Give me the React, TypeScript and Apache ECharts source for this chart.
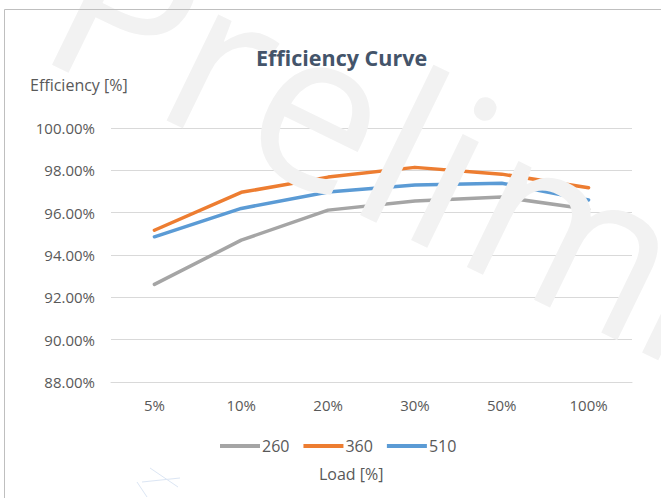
import React, { useEffect, useRef } from "react";
import * as echarts from "echarts";

const categories = ["5%", "10%", "20%", "30%", "50%", "100%"];
const seriesNames = ["260", "360", "510"];
const s260 = [92.61, 94.7, 96.12, 96.55, 96.74, 96.16];
const s360 = [95.17, 96.96, 97.68, 98.14, 97.82, 97.18];
const s510 = [94.86, 96.2, 96.98, 97.31, 97.39, 96.6];
const seriesColors = ["#A5A5A5", "#ED7D31", "#5B9BD5"];
const yMin = 88;
const yMax = 100;
const yStep = 2;

const watermarkLetters = ["P", "r", "e", "l", "i", "m", "i", "n", "a", "r", "y"];
const watermarkCenters = [36, 145, 254, 343, 400, 536, 657, 753, 880, 990, 1090];

const FONT = "'Open Sans', 'Noto Sans', sans-serif";
const ANG = (26 * Math.PI) / 180;

export default function App() {
  const ref = useRef<HTMLDivElement>(null);
  useEffect(() => {
    document.body.style.margin = "0";
    const chart = echarts.init(ref.current!, null, { renderer: "svg" });
    const data = [s260, s360, s510];
    chart.setOption({
      animation: false,
      backgroundColor: "#ffffff",
      grid: { left: 111, right: 29, top: 128, bottom: 116, containLabel: false },
      legend: {
        data: seriesNames,
        left: 215,
        top: 433,
        icon: "rect",
        itemWidth: 40,
        itemHeight: 4,
        itemGap: 14,
        textStyle: { color: "#595959", fontSize: 16, fontFamily: FONT, padding: [0, 0, 0, -3] },
      },
      xAxis: {
        type: "category",
        data: categories,
        boundaryGap: true,
        axisLine: { show: true, lineStyle: { color: "#D9D9D9", width: 1 } },
        axisTick: { show: false },
        axisLabel: { color: "#595959", fontSize: 15, fontFamily: FONT, margin: 15 },
        splitLine: { show: false },
      },
      yAxis: {
        type: "value",
        min: yMin,
        max: yMax,
        interval: yStep,
        axisLine: { show: false },
        axisTick: { show: false },
        axisLabel: {
          color: "#595959",
          fontSize: 15,
          fontFamily: FONT,
          margin: 16,
          formatter: (v: number) => v.toFixed(2) + "%",
        },
        splitLine: { show: true, lineStyle: { color: "#D9D9D9", width: 1 } },
      },
      series: seriesNames.map((name, i) => ({
        name,
        type: "line",
        data: data[i],
        symbol: "none",
        z: 2,
        itemStyle: { color: seriesColors[i] },
        lineStyle: { color: seriesColors[i], width: 3.5, cap: "round", join: "round" },
      })),
      graphic: [
        {
          type: "group",
          x: 60,
          y: 68,
          rotation: -ANG,
          silent: true,
          children: watermarkLetters.map((ch, i) => ({
            type: "text",
            x: watermarkCenters[i],
            y: -85,
            zlevel: 1,
            z: 100,
            silent: true,
            style: {
              text: ch,
              fontSize: 220,
              fontFamily: FONT,
              fontWeight: 500,
              fill: "#F2F2F2",
              align: "center",
              verticalAlign: "middle",
            },
          })),
        },
        {
          type: "text",
          left: 256,
          top: 46,
          zlevel: 2,
          z: 300,
          style: {
            text: "Efficiency Curve",
            fontSize: 21.5,
            fontWeight: "bold",
            fontFamily: FONT,
            fill: "#44546A",
          },
        },
        {
          type: "text",
          left: 30,
          top: 77,
          zlevel: 2,
          z: 300,
          style: { text: "Efficiency [%]", fontSize: 16, fontFamily: FONT, fill: "#595959" },
        },
        {
          type: "text",
          left: 319,
          top: 466,
          zlevel: 2,
          z: 300,
          style: { text: "Load [%]", fontSize: 16, fontFamily: FONT, fill: "#595959" },
        },
        {
          type: "rect",
          zlevel: 2,
          z: 400,
          silent: true,
          shape: { x: 4.5, y: 9.5, width: 700, height: 600 },
          style: { fill: "none", stroke: "#BFBFBF", lineWidth: 1 },
        },
        {
          type: "line",
          zlevel: 2,
          z: 400,
          silent: true,
          shape: { x1: 150, y1: 468, x2: 178, y2: 487 },
          style: { stroke: "#DCE6F4", lineWidth: 1 },
        },
        {
          type: "line",
          zlevel: 2,
          z: 400,
          silent: true,
          shape: { x1: 142, y1: 482, x2: 180, y2: 478 },
          style: { stroke: "#DCE6F4", lineWidth: 1 },
        },
        {
          type: "line",
          zlevel: 2,
          z: 400,
          silent: true,
          shape: { x1: 137, y1: 482, x2: 147, y2: 497 },
          style: { stroke: "#DCE6F4", lineWidth: 1 },
        },
      ],
    });
    return () => chart.dispose();
  }, []);
  return <div ref={ref} style={{ width: 661, height: 498 }} />;
}
